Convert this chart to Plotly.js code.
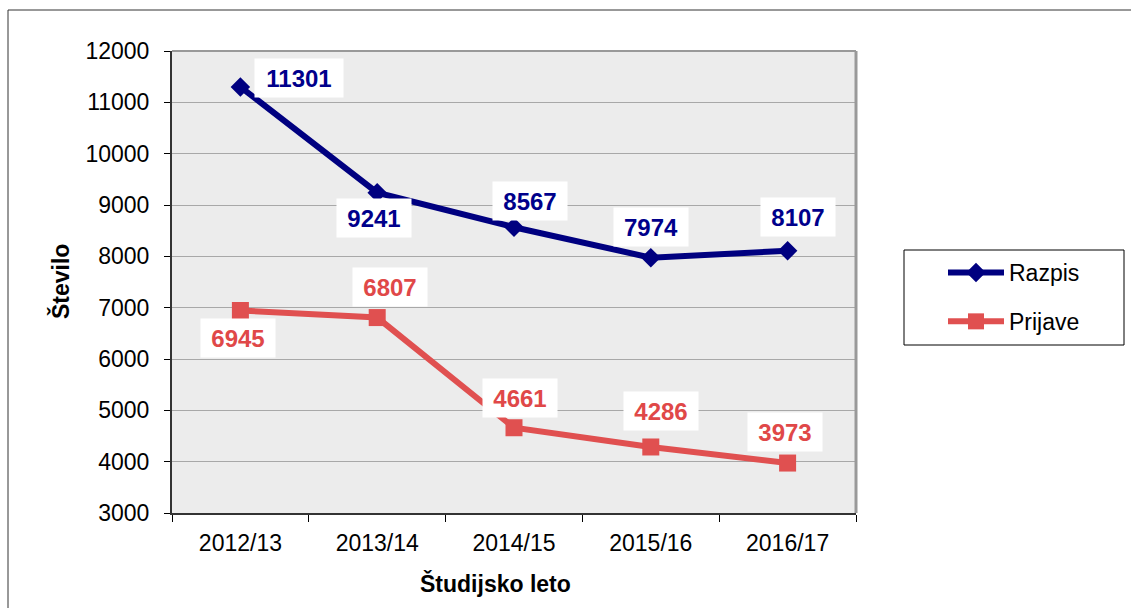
<!DOCTYPE html>
<html>
<head>
<meta charset="utf-8">
<script src="https://cdn.plot.ly/plotly-3.0.1.min.js"></script>
<style>html,body{margin:0;padding:0;background:#fff;}#chart{width:1131px;height:608px;}</style>
</head>
<body>
<div id="chart"></div>
<script>
const years = ['2012/13', '2013/14', '2014/15', '2015/16', '2016/17'];
const razpis = [11301, 9241, 8567, 7974, 8107];
const prijave = [6945, 6807, 4661, 4286, 3973];
const seriesNames = ['Razpis', 'Prijave'];
const yTickVals = [3000, 4000, 5000, 6000, 7000, 8000, 9000, 10000, 11000, 12000];

// label offsets (px) from each point
const razpisOff = [[59, -9], [-3, 25], [16, -26], [0, -31], [10, -34]];
const prijaveOff = [[-2, 28], [13, -31], [6, -30], [10, -36], [-3, -31]];

const blue = '#000080';
const red = '#e05050';
const font = 'Liberation Sans, Arial, sans-serif';

const traces = [
  {x: years, y: razpis, name: seriesNames[0], type: 'scatter', mode: 'lines+markers', legendgroup: 'a',
   line: {color: blue, width: 6}, marker: {symbol: 'diamond', size: 15, color: blue}},
  {x: years, y: prijave, name: seriesNames[1], type: 'scatter', mode: 'lines+markers', legendgroup: 'b',
   line: {color: red, width: 6}, marker: {symbol: 'square', size: 17, color: red}}
];

const annotations = [];
function addLabels(vals, offs, color) {
  vals.forEach((v, i) => {
    annotations.push({x: years[i], y: v, xref: 'x', yref: 'y', text: String(v), showarrow: false,
      xshift: offs[i][0], yshift: -offs[i][1], bgcolor: '#ffffff',
      width: String(v).length > 4 ? 88 : 74, height: 38, borderpad: 0,
      font: {family: font, size: 24, color: color, weight: 'bold'}});
  });
}
addLabels(razpis, razpisOff, '#00008b');
addLabels(prijave, prijaveOff, '#e04848');

annotations.push({xref: 'paper', yref: 'paper', x: (495 - 172) / 684, y: (513 - 583) / 462,
  text: 'Študijsko leto', showarrow: false, xanchor: 'center', yanchor: 'middle',
  font: {family: font, size: 23, color: '#000', weight: 'bold'}});
annotations.push({xref: 'paper', yref: 'paper', x: (60 - 172) / 684, y: (513 - 282) / 462,
  text: 'Število', showarrow: false, xanchor: 'center', yanchor: 'middle', textangle: -90,
  font: {family: font, size: 23, color: '#000', weight: 'bold'}});

const layout = {
  width: 1131, height: 608,
  margin: {l: 172, r: 275, t: 51, b: 95, pad: 0},
  paper_bgcolor: '#ffffff', plot_bgcolor: '#ececec',
  font: {family: font, size: 23, color: '#000'},
  showlegend: true,
  legend: {x: 1 + (943 - 856) / 684, xanchor: 'left', xref: 'paper', y: (513 - 251) / 462, yanchor: 'top',
    borderwidth: 0, bgcolor: 'rgba(0,0,0,0)', traceorder: 'grouped', tracegroupgap: 16,
    font: {family: font, size: 23, color: '#000'}, itemwidth: 56},
  xaxis: {type: 'category', range: [-0.5, 4.5], tickson: 'boundaries', ticks: 'outside', ticklen: 7,
    tickcolor: '#000', showline: true, linecolor: '#333', linewidth: 2, showgrid: false,
    ticklabelstandoff: 8,
    tickfont: {family: font, size: 23, color: '#000'}, fixedrange: true},
  yaxis: {range: [3000, 12000], tickvals: yTickVals, tickformat: 'd', ticks: 'outside', ticklen: 6, tickcolor: '#000',
    showline: true, linecolor: '#333', linewidth: 2, gridcolor: '#a8a8a8', gridwidth: 1,
    ticklabelstandoff: 10,
    tickfont: {family: font, size: 23, color: '#000'}, zeroline: false},
  annotations: annotations,
  shapes: [
    {type: 'line', xref: 'paper', yref: 'paper', x0: 1, x1: 1, y0: 0, y1: 1, line: {color: '#999', width: 3}},
    {type: 'line', xref: 'paper', yref: 'paper', x0: 0, x1: 1, y0: 1, y1: 1, line: {color: '#999', width: 2}},
    {type: 'rect', xref: 'paper', yref: 'paper', x0: (8 - 172) / 684, x1: (1145 - 172) / 684,
     y0: (513 - 630) / 462, y1: (513 - 10) / 462, line: {color: '#333', width: 1}, layer: 'below'},
    {type: 'rect', xref: 'paper', yref: 'paper', x0: (904 - 172) / 684, x1: (1124 - 172) / 684,
     y0: (513 - 345) / 462, y1: (513 - 250) / 462, line: {color: '#000', width: 1}, layer: 'below'}
  ]
};

Plotly.newPlot('chart', traces, layout, {displayModeBar: false, staticPlot: true});
</script>
</body>
</html>
